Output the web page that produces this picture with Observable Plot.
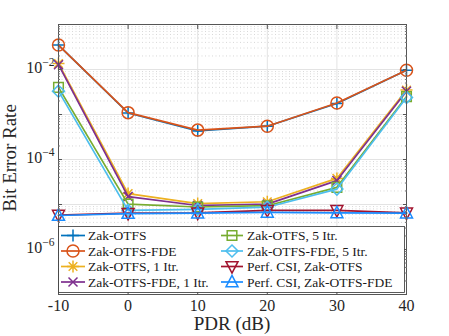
<!DOCTYPE html>
<html><head><meta charset="utf-8">
<script src="https://cdn.jsdelivr.net/npm/d3@7"></script>
<script src="https://cdn.jsdelivr.net/npm/@observablehq/plot@0.6"></script>
<style>
html,body{margin:0;padding:0;background:#fff;}
#chart{width:449px;height:336px;}
#chart svg, #chart svg text{font-family:"Liberation Serif", serif;}
</style></head><body><div id="chart"></div>
<script>
// ---- data ----
const pdr = [-10, 0, 10, 20, 30, 40];
const seriesNames = [
  "Zak-OTFS", "Zak-OTFS-FDE", "Zak-OTFS, 1 Itr.", "Zak-OTFS-FDE, 1 Itr.",
  "Zak-OTFS, 5 Itr.", "Zak-OTFS-FDE, 5 Itr.", "Perf. CSI, Zak-OTFS", "Perf. CSI, Zak-OTFS-FDE"
];
const berZakOTFS        = [3.5e-2, 1.08e-3, 4.3e-4, 5.5e-4, 1.75e-3, 9.6e-3];
const berZakOTFSFDE     = [3.5e-2, 1.10e-3, 4.5e-4, 5.5e-4, 1.80e-3, 9.6e-3];
const berZakOTFS1       = [1.36e-2, 1.75e-5, 1.05e-5, 1.15e-5, 3.8e-5, 3.5e-3];
const berZakOTFSFDE1    = [1.28e-2, 1.5e-5, 9.5e-6, 1.02e-5, 3.4e-5, 3.3e-3];
const berZakOTFS5       = [4.0e-3, 1.02e-5, 8.8e-6, 9.4e-6, 2.4e-5, 2.5e-3];
const berZakOTFSFDE5    = [3.3e-3, 7.4e-6, 7.8e-6, 8.7e-6, 2.2e-5, 2.4e-3];
const berPerfZakOTFS    = [5.8e-6, 6.4e-6, 6.5e-6, 7.4e-6, 7.4e-6, 6.5e-6];
const berPerfZakOTFSFDE = [5.7e-6, 6.3e-6, 6.4e-6, 6.7e-6, 6.5e-6, 6.4e-6];
const xTicks = [-10, 0, 10, 20, 30, 40];
const xTickLabels = ["-10", "0", "10", "20", "30", "40"];
const yTicks = [1e-6, 1e-4, 1e-2];
const yTickLabels = ["10^-6", "10^-4", "10^-2"];
const xLabel = "PDR (dB)";
const yLabel = "Bit Error Rate";

const allSeries = [berZakOTFS, berZakOTFSFDE, berZakOTFS1, berZakOTFSFDE1,
  berZakOTFS5, berZakOTFSFDE5, berPerfZakOTFS, berPerfZakOTFSFDE];
const colors = ["#0072BD", "#D95319", "#EDB120", "#7E2F8E", "#77AC30", "#4DBEEE", "#A2142F", "#1A8CFF"];
const FONT = "'Liberation Serif', serif";

// ---- marker symbols ----
function sym(fn) { return { draw(c, size) { fn(c, Math.sqrt(size / Math.PI)); } }; }
const symPlus = sym((c, r) => { c.moveTo(-r, 0); c.lineTo(r, 0); c.moveTo(0, -r); c.lineTo(0, r); });
const symCircle = sym((c, r) => { c.moveTo(r, 0); c.arc(0, 0, r, 0, 2 * Math.PI); c.closePath(); });
const symAsterisk = sym((c, r) => {
  const k = r * 0.72;
  c.moveTo(-r, 0); c.lineTo(r, 0); c.moveTo(0, -r); c.lineTo(0, r);
  c.moveTo(-k, -k); c.lineTo(k, k); c.moveTo(-k, k); c.lineTo(k, -k);
});
const symTimes = sym((c, r) => { const k = r * 0.75; c.moveTo(-k, -k); c.lineTo(k, k); c.moveTo(-k, k); c.lineTo(k, -k); });
const symSquare = sym((c, r) => { const s = r * 0.8; c.moveTo(-s, -s); c.lineTo(s, -s); c.lineTo(s, s); c.lineTo(-s, s); c.closePath(); });
const symDiamond = sym((c, r) => { c.moveTo(0, -r); c.lineTo(r, 0); c.lineTo(0, r); c.lineTo(-r, 0); c.closePath(); });
const symTriDown = sym((c, r) => { c.moveTo(-r, -r * 0.8); c.lineTo(r, -r * 0.8); c.lineTo(0, r * 1.1); c.closePath(); });
const symTriUp = sym((c, r) => { c.moveTo(-r, r * 0.8); c.lineTo(r, r * 0.8); c.lineTo(0, -r * 1.1); c.closePath(); });
const symbols = [symPlus, symCircle, symAsterisk, symTimes, symSquare, symDiamond, symTriDown, symTriUp];
const markR = 6;

// ---- table ----
const table = [];
seriesNames.forEach((name, i) => pdr.forEach((x, j) => table.push({ series: name, idx: i, x, y: allSeries[i][j] })));

// grid values
const decades = d3.range(-7, 0).map(e => Math.pow(10, e));
const minor = [];
d3.range(-7, -1).forEach(e => { for (let m = 2; m <= 9; m++) minor.push(m * Math.pow(10, e)); });

const marks = [
  Plot.ruleY(minor, { stroke: "#bdbdbd", strokeWidth: 0.6, strokeDasharray: "1,2.5" }),
  Plot.ruleY(decades, { stroke: "#e3e3e3", strokeWidth: 1 }),
  Plot.ruleX(xTicks, { stroke: "#e3e3e3", strokeWidth: 1 }),
];
seriesNames.forEach((name, i) => {
  const d = table.filter(r => r.idx === i);
  marks.push(Plot.line(d, { x: "x", y: "y", stroke: colors[i], strokeWidth: 1.7 }));
  marks.push(Plot.dot(d, { x: "x", y: "y", stroke: colors[i], fill: "none", strokeWidth: 1.5, r: markR, symbol: () => symbols[i] }));
});
marks.push(
  Plot.frame({ stroke: "#555", strokeWidth: 1 }),
  Plot.axisX({ ticks: xTicks, tickSize: 0, tickPadding: 5, label: null, fontSize: 16,
    tickFormat: d => xTickLabels[xTicks.indexOf(d)] }),
  Plot.axisX({ ticks: xTicks, tickSize: -4, tickFormat: () => "", label: null, stroke: "#555" }),
  Plot.axisX({ anchor: "top", ticks: xTicks, tickSize: -4, tickFormat: () => "", label: null, stroke: "#555" }),
  Plot.axisY({ ticks: yTicks, tickSize: 0, tickPadding: 4, dy: -2, label: null, fontSize: 16,
    tickFormat: d => yTickLabels[yTicks.indexOf(d)] }),
  Plot.axisY({ ticks: decades, tickSize: -4, tickFormat: () => "", label: null, stroke: "#555" }),
  Plot.axisY({ anchor: "right", ticks: decades, tickSize: -4, tickFormat: () => "", label: null, stroke: "#555" }),
  Plot.axisY({ anchor: "right", ticks: minor, tickSize: -2, tickFormat: () => "", label: null, stroke: "#777" }),
  Plot.axisY({ ticks: minor, tickSize: -2, tickFormat: () => "", label: null, stroke: "#777" })
);

const svg = Plot.plot({
  width: 449, height: 336,
  marginLeft: 58, marginRight: 43, marginTop: 24, marginBottom: 42,
  style: { fontFamily: FONT, fontSize: "16px", color: "#262626", background: "#fff" },
  x: { domain: [-10, 40] },
  y: { type: "log", domain: [1e-7, 1e-1] },
  marks
});
document.getElementById("chart").appendChild(svg);

const S = d3.select(svg).attr("font-family", FONT);
// superscript exponent labels
S.selectAll('[aria-label="y-axis tick label"] text').each(function () {
  const t = d3.select(this);
  const s = t.text();
  if (!s.includes("^")) return;
  const [b, e] = s.split("^");
  t.text(b);
  t.append("tspan").attr("dy", "-0.55em").attr("font-size", "11.5px").text(e.replace("-", "\u2212"));
});

// axis labels
S.append("text").attr("transform", "translate(15.5,158) rotate(-90)").attr("font-family", FONT)
  .attr("text-anchor", "middle").attr("font-size", 19).attr("fill", "#262626").text(yLabel);
S.append("text").attr("x", 232).attr("y", 330).attr("font-family", FONT)
  .attr("text-anchor", "middle").attr("font-size", 19).attr("fill", "#262626").text(xLabel);

// legend
const lg = S.append("g").attr("font-size", 13.5).attr("fill", "#1a1a1a").attr("font-family", FONT);
lg.append("rect").attr("x", 58.5).attr("y", 226.5).attr("width", 346).attr("height", 66)
  .attr("fill", "#fff").attr("stroke", "#333").attr("stroke-width", 0.8);
const rowsY = [235.5, 251, 266.5, 282];
const cols = [{ x0: 61, x1: 85, tx: 88 }, { x0: 221, x1: 243, tx: 247 }];
seriesNames.forEach((name, i) => {
  const c = cols[Math.floor(i / 4)];
  const y = rowsY[i % 4];
  const xm = (c.x0 + c.x1) / 2;
  lg.append("line").attr("x1", c.x0).attr("x2", c.x1).attr("y1", y).attr("y2", y)
    .attr("stroke", colors[i]).attr("stroke-width", 1.7);
  lg.append("path").attr("d", d3.symbol(symbols[i], markR * markR * Math.PI)())
    .attr("transform", `translate(${xm},${y})`).attr("fill", "none")
    .attr("stroke", colors[i]).attr("stroke-width", 1.5);
  lg.append("text").attr("x", c.tx).attr("y", y).attr("dy", "0.35em")
    .attr("text-anchor", "start").text(name);
});
</script></body></html>
